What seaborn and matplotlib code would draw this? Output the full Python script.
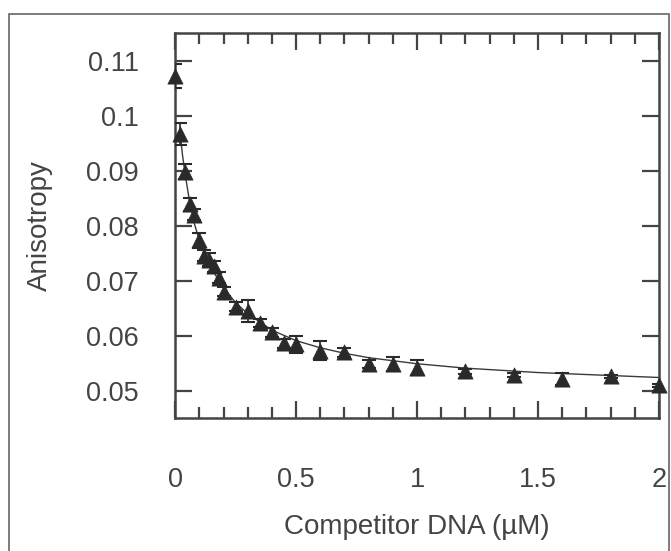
import numpy as np
import pandas as pd
import matplotlib
matplotlib.use("Agg")
import matplotlib.pyplot as plt
from matplotlib.patches import Rectangle
from matplotlib.ticker import MultipleLocator
import seaborn as sns

# Values
competitor = [0, 0.02, 0.04, 0.06, 0.08, 0.1, 0.12, 0.14, 0.16, 0.18, 0.2, 0.25, 0.3,
              0.35, 0.4, 0.45, 0.5, 0.6, 0.7, 0.8, 0.9, 1.0, 1.2, 1.4, 1.6, 1.8, 2.0]
anisotropy = [0.1072, 0.0967, 0.0898, 0.0839, 0.0820, 0.0773, 0.0745, 0.0738, 0.0726,
              0.0705, 0.0680, 0.0653, 0.0644, 0.0623, 0.0606, 0.0586, 0.0584, 0.0573,
              0.0570, 0.0548, 0.0548, 0.0542, 0.0535, 0.0529, 0.0522, 0.0526, 0.0510]
errors = [0.0021, 0.0020, 0.0014, 0.0012, 0.0010, 0.0013, 0.0010, 0.0012, 0.0010,
          0.0010, 0.0008, 0.0008, 0.0020, 0.0008, 0.0008, 0.0008, 0.0015, 0.0017,
          0.0008, 0.0007, 0.0013, 0.0014, 0.0004, 0.0004, 0.0011, 0.0003, 0.0003]

# fitted curve
fit_x = [0.02, 0.03, 0.04, 0.06, 0.08, 0.1, 0.12, 0.15, 0.2, 0.25, 0.3, 0.4, 0.5,
         0.6, 0.7, 0.8, 1.0, 1.2, 1.5, 2.0]
fit_y = [0.0972, 0.0930, 0.0897, 0.0843, 0.0803, 0.0773, 0.0750, 0.0722, 0.0687,
         0.0660, 0.0640, 0.0610, 0.0591, 0.0578, 0.0568, 0.0560, 0.0549, 0.0541,
         0.0533, 0.0524]

df = pd.DataFrame({"x": competitor, "y": anisotropy, "err": errors})
fit = pd.DataFrame({"x": fit_x, "y": fit_y})

sns.set_theme(style="ticks")
plt.rcParams["font.family"] = ["Liberation Sans", "DejaVu Sans"]

grey = "#444444"
dark = "#2a2a2a"

fig = plt.figure(figsize=(6.71, 5.51), dpi=100)
ax = fig.add_axes([0.261, 0.241, 0.721, 0.699])

sns.lineplot(data=fit, x="x", y="y", ax=ax, color="#3a3a3a", linewidth=1.0)
ax.errorbar(df["x"], df["y"], yerr=df["err"], fmt="none", ecolor=dark,
            elinewidth=1.2, capsize=5, capthick=1.5, zorder=3)
sns.scatterplot(data=df, x="x", y="y", ax=ax, marker="^", s=120, color=dark,
                edgecolor=dark, linewidth=0.5, zorder=4, clip_on=False)

ax.set_xlim(0, 2)
ax.set_ylim(0.045, 0.115)
ax.xaxis.set_minor_locator(MultipleLocator(0.1))
ax.set_xticks([0, 0.5, 1, 1.5, 2])
ax.set_xticklabels(["0", "0.5", "1", "1.5", "2"])
ax.set_yticks([0.05, 0.06, 0.07, 0.08, 0.09, 0.1, 0.11])
ax.set_yticklabels(["0.05", "0.06", "0.07", "0.08", "0.09", "0.1", "0.11"])

ax.tick_params(which="both", direction="in", top=True, right=True, color=grey,
               width=1.6, labelcolor=grey, labelsize=19.5)
ax.tick_params(which="major", length=12)
ax.tick_params(which="minor", length=8)
ax.tick_params(axis="x", which="major", pad=35)
ax.tick_params(axis="y", which="major", pad=26)

for sp in ax.spines.values():
    sp.set_color(grey)
    sp.set_linewidth(1.8)

ax.set_xlabel("Competitor DNA (µM)", fontsize=20, color=grey, labelpad=15)
ax.set_ylabel("Anisotropy", fontsize=20, color=grey, labelpad=24)

# thin frame around the figure
fig.patches.append(Rectangle((0.0134, -0.02), 0.9836, 0.9946, transform=fig.transFigure,
                             fill=False, edgecolor="#666666", linewidth=1.2))

fig.savefig("out.png", dpi=100)
